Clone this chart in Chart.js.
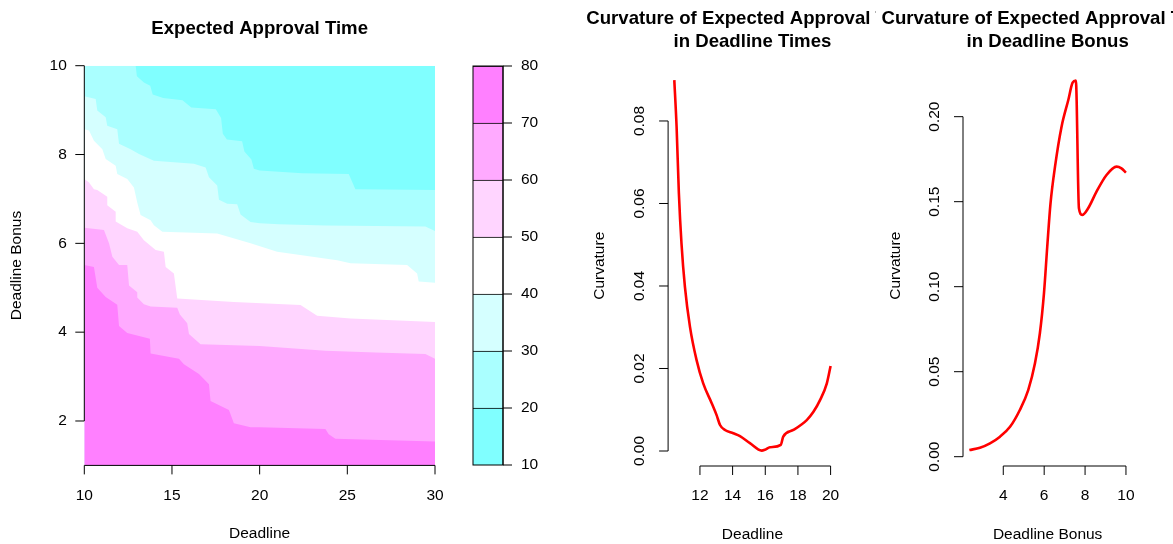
<!DOCTYPE html>
<html><head><meta charset="utf-8">
<script src="https://cdn.jsdelivr.net/npm/chart.js@4.4.1/dist/chart.umd.min.js"></script>
<style>
html,body{margin:0;padding:0;background:#fff;}
#wrap{position:relative;width:1173px;height:544px;overflow:hidden;background:#fff;}
canvas{position:absolute;top:0;}
</style></head><body>
<div id="wrap">
<canvas id="cMain" width="519" height="544" style="left:0px"></canvas>
<canvas id="cKey" width="100" height="544" style="left:440px"></canvas>
<canvas id="cDeadline" width="316" height="544" style="left:560px"></canvas>
<canvas id="cBonus" width="297" height="544" style="left:876px"></canvas>
</div>
<script>
// ---------------- data ----------------
// contour boundaries of Expected Approval Time: [Deadline, Deadline Bonus]
const boundary20 = [[10,10],[12.93,10],[13.0,9.76],[13.4,9.62],[13.76,9.55],[13.9,9.35],[14.5,9.27],[15.6,9.22],[16.1,9.06],[17.5,9.02],[17.8,8.82],[17.9,8.47],[18.13,8.34],[19.0,8.30],[19.13,8.07],[19.53,7.89],[19.67,7.68],[20.0,7.64],[22.42,7.58],[25.08,7.56],[25.46,7.22],[30,7.20]];
const boundary30 = [[10,9.31],[10.65,9.25],[10.74,8.99],[11.22,8.84],[11.31,8.65],[11.88,8.57],[11.98,8.24],[12.64,8.12],[13.12,8.01],[13.97,7.86],[15.30,7.82],[16.25,7.79],[16.92,7.71],[17.11,7.49],[17.58,7.30],[17.68,6.98],[18.15,6.89],[18.72,6.88],[18.91,6.65],[19.48,6.48],[20.01,6.45],[21.09,6.43],[23.75,6.40],[29.45,6.38],[30,6.28]];
const boundary40 = [[10,8.57],[10.27,8.54],[10.55,8.31],[11.03,8.12],[11.22,7.90],[11.79,7.75],[11.88,7.56],[12.45,7.45],[12.83,7.26],[13.02,6.92],[13.21,6.64],[13.78,6.52],[13.97,6.41],[14.45,6.26],[17.58,6.22],[19.48,6.00],[21.00,5.81],[24.42,5.62],[25.18,5.55],[28.41,5.51],[28.98,5.32],[29.07,5.14],[30,5.11]];
const boundary50 = [[10,7.45],[10.27,7.37],[10.55,7.22],[10.74,7.20],[11.31,7.05],[11.31,6.86],[11.79,6.71],[11.79,6.49],[12.45,6.34],[13.02,6.26],[13.40,6.07],[14.07,5.85],[14.54,5.81],[14.64,5.47],[15.11,5.32],[15.30,4.76],[18.53,4.68],[22.33,4.61],[23.28,4.37],[25.18,4.31],[30,4.23]];
const boundary60 = [[10,6.35],[11.12,6.30],[11.41,6.00],[11.60,5.70],[11.98,5.51],[12.45,5.51],[12.55,5.05],[13.02,4.90],[13.02,4.78],[13.40,4.63],[13.78,4.58],[15.30,4.55],[15.45,4.40],[15.87,4.20],[15.97,3.96],[16.63,3.73],[20.01,3.69],[23.75,3.58],[26.60,3.54],[29.45,3.51],[30,3.40]];
const boundary70 = [[10,5.51],[10.55,5.47],[10.74,5.00],[11.22,4.79],[11.88,4.62],[11.98,4.14],[12.45,3.98],[13.74,3.85],[13.78,3.52],[15.40,3.40],[15.68,3.28],[16.54,3.06],[17.11,2.83],[17.20,2.45],[18.25,2.25],[18.53,1.95],[19.48,1.86],[20.01,1.86],[23.75,1.82],[23.94,1.70],[24.32,1.60],[30,1.54]];
const boundaryTop = [[10,10],[30,10]];
const keyLevels = [10,20,30,40,50,60,70,80];

// curvature in deadline times
const deadlineX = [10.43,10.57,10.71,10.87,11.08,11.39,11.79,12.20,12.72,13.02,13.23,13.53,14.04,14.45,15.06,15.78,15.98,16.29,16.95,17.10,17.72,18.54,18.95,19.36,19.77,20.0];
const deadlineCurv = [0.0899,0.0786,0.0625,0.0503,0.0398,0.0301,0.0221,0.0164,0.0116,0.0087,0.0063,0.0051,0.0043,0.0036,0.0019,0.0001,0.0003,0.0009,0.0015,0.0035,0.0051,0.0075,0.0095,0.0124,0.0164,0.0206];

// curvature in deadline bonus
const bonusX = [2.34,2.86,3.35,3.84,4.33,4.81,5.22,5.55,5.79,5.99,6.15,6.31,6.53,6.85,7.18,7.39,7.55,7.70,7.86,8.15,8.56,9.05,9.54,9.78,10.0];
const bonusCurv = [0.0039,0.0053,0.0079,0.0118,0.0176,0.0275,0.0392,0.0549,0.0726,0.0961,0.1235,0.149,0.1706,0.1941,0.2098,0.2200,0.2212,0.1461,0.1422,0.1461,0.1559,0.1657,0.1706,0.1696,0.1671];

// tick labels
const mainXTicks = [10,15,20,25,30];
const mainXLabels = ['10','15','20','25','30'];
const mainYTicks = [2,4,6,8,10];
const mainYLabels = ['2','4','6','8','10'];
const keyLabels = ['10','20','30','40','50','60','70','80'];
const deadlineTicks = [12,14,16,18,20];
const deadlineLabels = ['12','14','16','18','20'];
const curvTicksA = [0,0.02,0.04,0.06,0.08];
const curvLabelsA = ['0.00','0.02','0.04','0.06','0.08'];
const bonusTicks = [4,6,8,10];
const bonusLabels = ['4','6','8','10'];
const curvTicksB = [0,0.05,0.10,0.15,0.20];
const curvLabelsB = ['0.00','0.05','0.10','0.15','0.20'];

// titles
const mainTitle = 'Expected Approval Time';
const deadlineTitle = ['Curvature of Expected Approval Time', 'in Deadline Times'];
const bonusTitle = ['Curvature of Expected Approval Time', 'in Deadline Bonus'];

// ---------------- styling ----------------
const FONT = '"Liberation Sans", Arial, Helvetica, sans-serif';
const TICK_FONT = 15.5;
const TITLE_FONT = 18.6;
const TICK_LEN = 9;
const KEY_COLORS = ['#80FFFF','#AAFFFF','#D5FFFF','#FFFFFF','#FFD5FF','#FFAAFF','#FF80FF'];

function rAxes(cfg) {
  return {
    id: 'rAxes',
    afterDraw(chart) {
      const ctx = chart.ctx, a = chart.chartArea;
      const xs = chart.scales.x, ys = chart.scales.y;
      ctx.save();
      ctx.strokeStyle = '#000'; ctx.fillStyle = '#000'; ctx.lineWidth = 1;
      ctx.font = TICK_FONT + 'px ' + FONT;
      if (cfg.box) { ctx.strokeRect(a.left, a.top, a.right - a.left, a.bottom - a.top); }
      if (cfg.xTicks) {
        const y0 = a.bottom;
        const p = cfg.xTicks.map(v => xs.getPixelForValue(v));
        ctx.beginPath();
        ctx.moveTo(p[0], y0); ctx.lineTo(p[p.length - 1], y0);
        p.forEach(px => { ctx.moveTo(px, y0); ctx.lineTo(px, y0 + TICK_LEN); });
        ctx.stroke();
        ctx.textAlign = 'center'; ctx.textBaseline = 'middle';
        p.forEach((px, i) => ctx.fillText(cfg.xLabels[i], px, y0 + 30));
      }
      if (cfg.yTicks) {
        const side = cfg.ySide || 'left';
        const x0 = side === 'left' ? a.left : a.right;
        const dir = side === 'left' ? -1 : 1;
        const p = cfg.yTicks.map(v => ys.getPixelForValue(v));
        ctx.beginPath();
        ctx.moveTo(x0, p[0]); ctx.lineTo(x0, p[p.length - 1]);
        p.forEach(py => { ctx.moveTo(x0, py); ctx.lineTo(x0 + dir * TICK_LEN, py); });
        ctx.stroke();
        p.forEach((py, i) => {
          const lab = cfg.yLabels[i];
          if (cfg.yRotated) {
            ctx.save(); ctx.translate(x0 - 28, py); ctx.rotate(-Math.PI / 2);
            ctx.textAlign = 'center'; ctx.textBaseline = 'middle';
            ctx.fillText(lab, 0, 0); ctx.restore();
          } else if (side === 'left') {
            ctx.textAlign = 'right'; ctx.textBaseline = 'middle';
            ctx.fillText(lab, x0 - 17.5, py);
          } else {
            ctx.textAlign = 'left'; ctx.textBaseline = 'middle';
            ctx.fillText(lab, x0 + 18, py);
          }
        });
      }
      if (cfg.xTitle) {
        ctx.textAlign = 'center'; ctx.textBaseline = 'middle';
        ctx.fillText(cfg.xTitle, (a.left + a.right) / 2, a.bottom + 68.5);
      }
      if (cfg.yTitle) {
        ctx.save(); ctx.translate(a.left - cfg.yTitleOffset, (a.top + a.bottom) / 2); ctx.rotate(-Math.PI / 2);
        ctx.textAlign = 'center'; ctx.textBaseline = 'middle';
        ctx.fillText(cfg.yTitle, 0, 0); ctx.restore();
      }
      if (cfg.title) {
        ctx.font = 'bold ' + TITLE_FONT + 'px ' + FONT;
        ctx.textAlign = 'center'; ctx.textBaseline = 'middle';
        const cx = (a.left + a.right) / 2;
        cfg.title.forEach((t, i) => ctx.fillText(t, cx, 18.5 + i * 23.5));
      }
      ctx.restore();
    }
  };
}

const baseOpts = (pad, title, scales) => ({
  responsive: false, animation: false, devicePixelRatio: 1,
  layout: { padding: pad, autoPadding: false },
  scales: scales,
  plugins: {
    legend: { display: false }, tooltip: { enabled: false },
    title: title
  }
});

const toXY = pairs => pairs.map(p => ({ x: p[0], y: p[1] }));

// ---------------- main filled contour ----------------
const bands = [boundary70, boundary60, boundary50, boundary40, boundary30, boundary20, boundaryTop];
const bandColors = [KEY_COLORS[6], KEY_COLORS[5], KEY_COLORS[4], KEY_COLORS[3], KEY_COLORS[2], KEY_COLORS[1], KEY_COLORS[0]];
new Chart(document.getElementById('cMain'), {
  type: 'line',
  data: {
    datasets: bands.map((b, i) => ({
      data: toXY(b), order: i, fill: 'start', tension: 0,
      backgroundColor: bandColors[i], borderColor: bandColors[i], borderWidth: 0, pointRadius: 0
    }))
  },
  options: baseOpts(
    { left: 84.3, right: 84, top: 0, bottom: 78.6 },
    { display: true, text: mainTitle, color: '#000',
      font: { family: FONT, size: TITLE_FONT, weight: 'bold', lineHeight: 1.2 },
      padding: { top: 17.84, bottom: 25.54 } },
    { x: { type: 'linear', display: false, min: 10, max: 30 },
      y: { type: 'linear', display: false, min: 1, max: 10 } }
  ),
  plugins: [rAxes({ xTicks: mainXTicks, xLabels: mainXLabels, yTicks: mainYTicks, yLabels: mainYLabels,
                    xTitle: 'Deadline', yTitle: 'Deadline Bonus', yTitleOffset: 67.3 })]
});

// ---------------- colour key ----------------
new Chart(document.getElementById('cKey'), {
  type: 'bar',
  data: {
    labels: [''],
    datasets: KEY_COLORS.map((c, i) => ({
      data: [[keyLevels[i], keyLevels[i + 1]]], backgroundColor: c, borderColor: '#000',
      borderWidth: { top: 1, left: 0, right: 0, bottom: 0 }, borderSkipped: false,
      grouped: false, barPercentage: 1, categoryPercentage: 1
    }))
  },
  options: baseOpts(
    { left: 33, right: 37, top: 66, bottom: 79 },
    { display: false },
    { x: { type: 'category', display: false },
      y: { type: 'linear', display: false, min: 10, max: 80 } }
  ),
  plugins: [rAxes({ box: true, yTicks: keyLevels, yLabels: keyLabels, ySide: 'right' })]
});

// ---------------- curvature panels ----------------
new Chart(document.getElementById('cDeadline'), {
  type: 'line',
  data: { datasets: [{ data: deadlineX.map((x, i) => ({ x: x, y: deadlineCurv[i] })),
    borderColor: '#FF0000', borderWidth: 2.6, pointRadius: 0, fill: false, cubicInterpolationMode: 'monotone' }] },
  options: baseOpts(
    { left: 108.1, right: 39.2, top: 65.5, bottom: 78 },
    { display: false },
    { x: { type: 'linear', display: false, min: 10.05, max: 20.38 },
      y: { type: 'linear', display: false, min: -0.003636, max: 0.09345 } }
  ),
  plugins: [rAxes({ xTicks: deadlineTicks, xLabels: deadlineLabels, yTicks: curvTicksA, yLabels: curvLabelsA,
                    yRotated: true, xTitle: 'Deadline', yTitle: 'Curvature', yTitleOffset: 68, title: deadlineTitle })]
});

new Chart(document.getElementById('cBonus'), {
  type: 'line',
  data: { datasets: [{ data: bonusX.map((x, i) => ({ x: x, y: bonusCurv[i] })),
    borderColor: '#FF0000', borderWidth: 2.6, pointRadius: 0, fill: false, cubicInterpolationMode: 'monotone' }] },
  options: baseOpts(
    { left: 87, right: 40.7, top: 65.5, bottom: 78 },
    { display: false },
    { x: { type: 'linear', display: false, min: 2.03, max: 10.31 },
      y: { type: 'linear', display: false, min: -0.00547, max: 0.2301 } }
  ),
  plugins: [rAxes({ xTicks: bonusTicks, xLabels: bonusLabels, yTicks: curvTicksB, yLabels: curvLabelsB,
                    yRotated: true, xTitle: 'Deadline Bonus', yTitle: 'Curvature', yTitleOffset: 67, title: bonusTitle })]
});
</script>
</body></html>
